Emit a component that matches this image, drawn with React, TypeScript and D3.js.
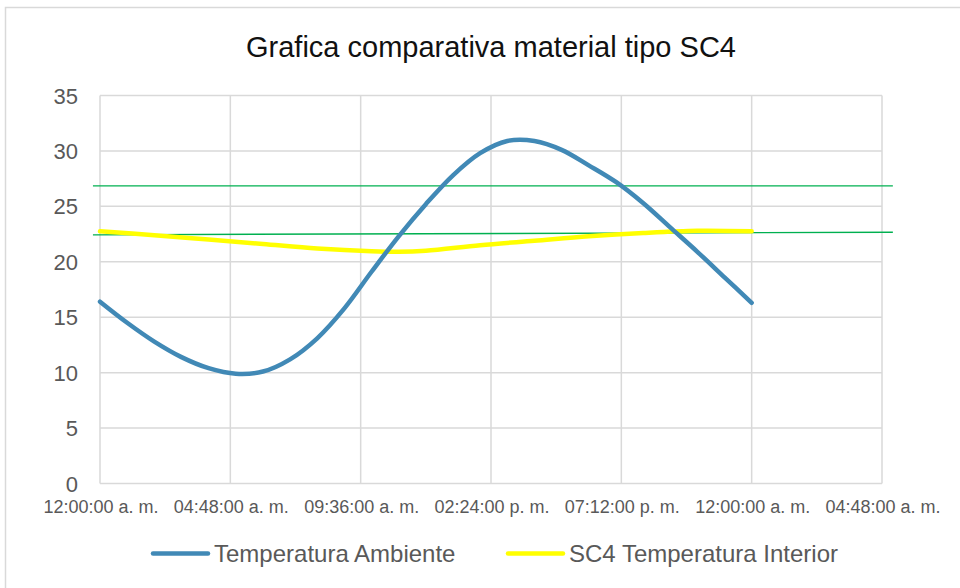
import React from "react";
import * as d3 from "d3";

const title = "Grafica comparativa material tipo SC4";
const xTickLabels = [
  "12:00:00 a. m.",
  "04:48:00 a. m.",
  "09:36:00 a. m.",
  "02:24:00 p. m.",
  "07:12:00 p. m.",
  "12:00:00 a. m.",
  "04:48:00 a. m.",
];
const xTickHours = [0, 4.8, 9.6, 14.4, 19.2, 24, 28.8];
const yTicks = [0, 5, 10, 15, 20, 25, 30, 35];

const ambHours = [0, 1, 2, 3, 4, 5, 6, 7, 8, 9, 10, 11, 12, 13, 14, 15, 16, 17, 18, 19, 20, 21, 22, 23, 24];
const ambValues = [16.4, 14.5, 12.8, 11.4, 10.4, 9.9, 10.1, 11.2, 13.1, 15.8, 19.1, 22.3, 25.2, 27.8, 29.8, 30.9, 30.9, 30.1, 28.7, 27.2, 25.3, 23.1, 20.9, 18.6, 16.3];

const intHours = [0, 2, 4, 6, 8, 10, 11, 12, 14, 16, 18, 20, 22, 24];
const intValues = [22.75, 22.4, 22.0, 21.6, 21.2, 20.95, 20.9, 21.0, 21.5, 21.9, 22.3, 22.6, 22.8, 22.75];

const greenHours = [-0.26, 29.2];
const greenUpper = [26.85, 26.85];
const greenLower = [22.43, 22.67];

const seriesNames = ["Temperatura Ambiente", "SC4 Temperatura Interior"];

export default function App() {
  const W = 960, H = 588;
  const x = d3.scaleLinear().domain([0, 28.8]).range([100, 882]);
  const y = d3.scaleLinear().domain([0, 35]).range([483.5, 95.5]);
  const font = "'Liberation Sans', Arial, sans-serif";
  const grid = "#D9D9D9";
  const textCol = "#595959";
  const blue = "#4189B6";
  const yellow = "#FFFF00";
  const green = "#00B050";

  const line = d3
    .line<[number, number]>()
    .x((d) => x(d[0]))
    .y((d) => y(d[1]))
    .curve(d3.curveCatmullRom.alpha(0.5));
  const straight = d3
    .line<[number, number]>()
    .x((d) => x(d[0]))
    .y((d) => y(d[1]));

  const amb = ambHours.map((h, i) => [h, ambValues[i]] as [number, number]);
  const int = intHours.map((h, i) => [h, intValues[i]] as [number, number]);
  const gU = greenHours.map((h, i) => [h, greenUpper[i]] as [number, number]);
  const gL = greenHours.map((h, i) => [h, greenLower[i]] as [number, number]);

  const legend = [
    { name: seriesNames[0], color: blue, x0: 153 },
    { name: seriesNames[1], color: yellow, x0: 508 },
  ];

  return (
    <svg
      width={W}
      height={H}
      style={{ position: "absolute", left: 0, top: 0, background: "#fff" }}
      fontFamily={font}
    >
      <rect x={0} y={0} width={W} height={H} fill="#fff" />
      <rect x={5.5} y={7.5} width={W + 10} height={H + 10} fill="none" stroke={grid} strokeWidth={1.5} />
      <text x={491} y={56.5} textAnchor="middle" fontSize={29} fill="#111">
        {title}
      </text>
      {yTicks.map((t) => (
        <line key={"h" + t} x1={100} x2={882} y1={y(t)} y2={y(t)} stroke={grid} strokeWidth={1.5} />
      ))}
      {xTickHours.map((h) => (
        <line key={"v" + h} x1={x(h)} x2={x(h)} y1={y(0)} y2={y(35)} stroke={grid} strokeWidth={1.5} />
      ))}
      {yTicks.map((t) => (
        <text key={"yl" + t} x={78} y={y(t) + 8} textAnchor="end" fontSize={22} fill={textCol}>
          {t}
        </text>
      ))}
      {xTickHours.map((h, i) => (
        <text key={"xl" + i} x={x(h) + 1} y={513} textAnchor="middle" fontSize={18} fill={textCol}>
          {xTickLabels[i]}
        </text>
      ))}
      <path d={straight(gU) || ""} fill="none" stroke={green} strokeWidth={1.4} />
      <path d={straight(gL) || ""} fill="none" stroke={green} strokeWidth={1.4} />
      <path d={line(int) || ""} fill="none" stroke={yellow} strokeWidth={4.5} strokeLinecap="round" />
      <path d={line(amb) || ""} fill="none" stroke={blue} strokeWidth={4.5} strokeLinecap="round" />
      {legend.map((l) => (
        <g key={l.name}>
          <line x1={l.x0} x2={l.x0 + 55} y1={553.5} y2={553.5} stroke={l.color} strokeWidth={4.5} strokeLinecap="round" />
          <text x={l.x0 + 61} y={561.5} fontSize={24} fill={textCol}>
            {l.name}
          </text>
        </g>
      ))}
    </svg>
  );
}
